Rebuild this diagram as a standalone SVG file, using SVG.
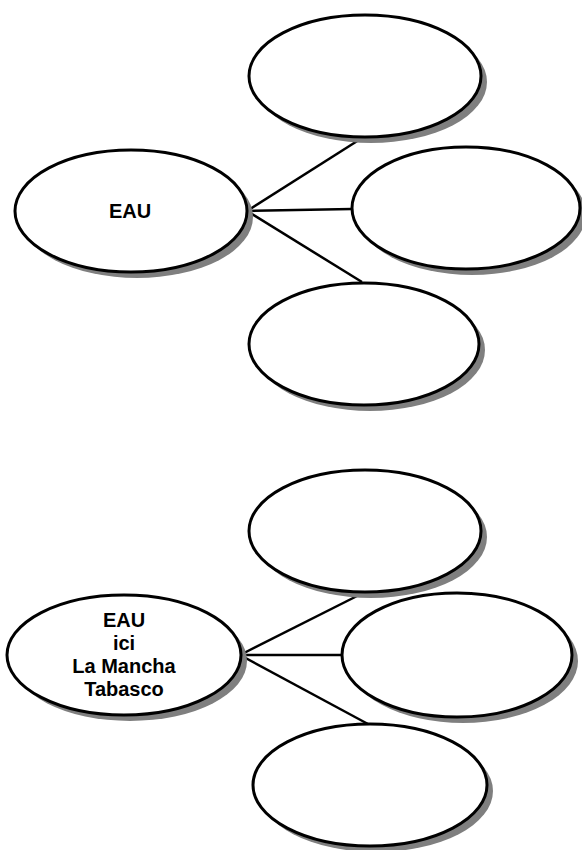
<svg xmlns="http://www.w3.org/2000/svg" width="582" height="850" viewBox="0 0 582 850">
<style>
.sh{fill:#7f7f7f;stroke:none}
.nd{fill:#fff;stroke:#000;stroke-width:3}
.ln{stroke:#000;stroke-width:2.5;fill:none}
.t{font-family:"Liberation Sans",Arial,sans-serif;font-weight:bold;font-size:20px;text-anchor:middle;fill:#000}
</style>
<rect width="582" height="850" fill="#fff"/>
<g id="connectors">
<line class="ln" x1="247" y1="211" x2="362" y2="138"/>
<line class="ln" x1="247" y1="211" x2="352" y2="209"/>
<line class="ln" x1="247" y1="211" x2="362" y2="282"/>
<line class="ln" x1="240" y1="655" x2="365" y2="592"/>
<line class="ln" x1="240" y1="655" x2="342" y2="655"/>
<line class="ln" x1="240" y1="655" x2="368" y2="724"/>
</g>
<g id="n1"><ellipse class="sh" cx="137" cy="217" rx="116" ry="61"/><ellipse class="nd" cx="131" cy="211" rx="116" ry="61"/><text class="t" x="130" y="218">EAU</text></g>
<g id="n2"><ellipse class="sh" cx="371" cy="82" rx="116" ry="61"/><ellipse class="nd" cx="365" cy="76" rx="116" ry="61"/></g>
<g id="n3"><ellipse class="sh" cx="472" cy="214" rx="114" ry="61"/><ellipse class="nd" cx="466" cy="208" rx="114" ry="61"/></g>
<g id="n4"><ellipse class="sh" cx="370" cy="350" rx="115" ry="61"/><ellipse class="nd" cx="364" cy="344" rx="115" ry="61"/></g>
<g id="n5"><ellipse class="sh" cx="130" cy="661" rx="117" ry="60"/><ellipse class="nd" cx="124" cy="655" rx="117" ry="60"/>
<text class="t" x="124" y="627">EAU</text><text class="t" x="124" y="650">ici</text><text class="t" x="124" y="673">La Mancha</text><text class="t" x="124" y="696">Tabasco</text></g>
<g id="n6"><ellipse class="sh" cx="371" cy="537" rx="116" ry="61"/><ellipse class="nd" cx="365" cy="531" rx="116" ry="61"/></g>
<g id="n7"><ellipse class="sh" cx="463" cy="661" rx="115" ry="62"/><ellipse class="nd" cx="457" cy="655" rx="115" ry="62"/></g>
<g id="n8"><ellipse class="sh" cx="376" cy="791" rx="117" ry="61"/><ellipse class="nd" cx="370" cy="785" rx="117" ry="61"/></g>
</svg>
